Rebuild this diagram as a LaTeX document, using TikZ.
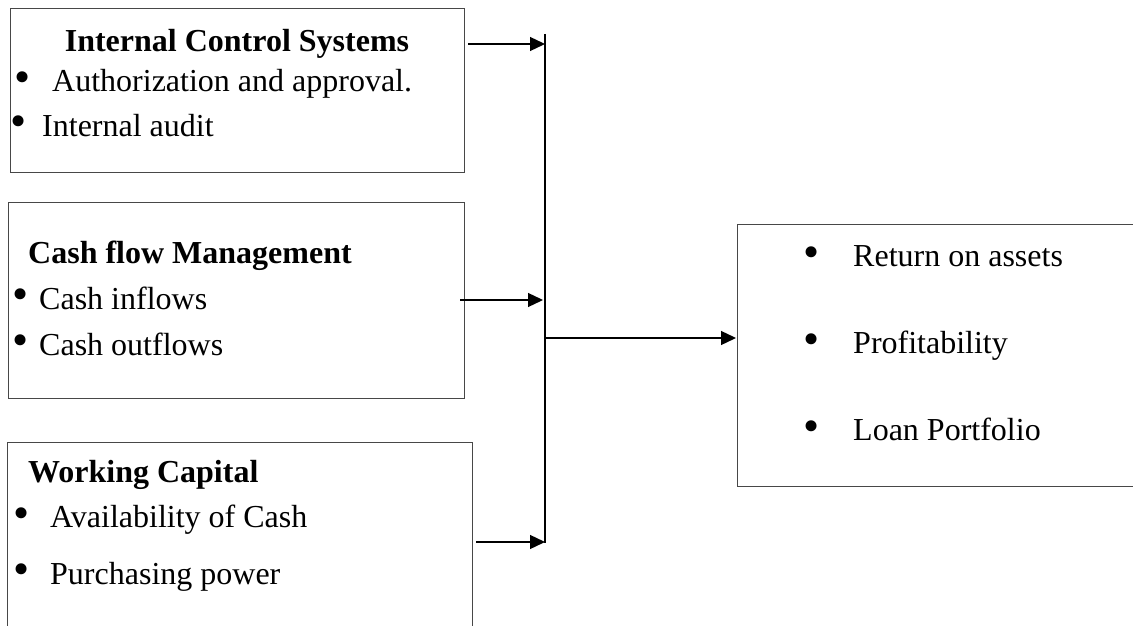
\documentclass[tikz,border=0pt]{standalone}
\usepackage{fontspec}
\setmainfont{Liberation Serif}
\usetikzlibrary{arrows.meta}
\begin{document}
\begin{tikzpicture}[x=1pt,y=-1pt,
  frame/.style={draw=black!72, line width=1.2pt, inner sep=0pt, anchor=north west},
  conn/.style={line width=1.3pt},
  arr/.style={conn, -{Triangle[length=15pt,width=14pt]}},
  txt/.style={anchor=base west, inner sep=0pt, font=\fontsize{32}{38}\selectfont},
  ttl/.style={txt, font=\fontsize{32}{38}\selectfont\bfseries},
  dot/.style={anchor=center, inner sep=0pt, font=\fontsize{46}{50}\selectfont}]
\useasboundingbox (0,0) rectangle (1133,626);
\fill[white] (0,0) rectangle (1133,626);
\clip (0,0) rectangle (1133,626);

% boxes
\node[frame, minimum width=454pt, minimum height=164pt] (ics) at (10,8) {};
\node[frame, minimum width=456pt, minimum height=196pt] (cfm) at (8,202) {};
\node[frame, minimum width=465pt, minimum height=230pt] (wc) at (7,442) {};
\node[frame, minimum width=460pt, minimum height=262pt] (out) at (737,224) {};

% box 1 text
\node[ttl, anchor=base] (ics-t) at (237,52) {Internal Control Systems};
\node[dot] (ics-d1) at (23,82) {•};
\node[txt] (ics-a) at (52,92) {Authorization and approval.};
\node[dot] (ics-d2) at (19,126) {•};
\node[txt] (ics-b) at (42,136) {Internal audit};

% box 2 text
\node[ttl] (cfm-t) at (28,263) {Cash flow Management};
\node[dot] (cfm-d1) at (21,299) {•};
\node[txt] (cfm-a) at (39,309) {Cash inflows};
\node[dot] (cfm-d2) at (21,345) {•};
\node[txt] (cfm-b) at (39,355) {Cash outflows};

% box 3 text
\node[ttl] (wc-t) at (28,482) {Working Capital};
\node[dot] (wc-d1) at (22,518) {•};
\node[txt] (wc-a) at (50,527) {Availability of Cash};
\node[dot] (wc-d2) at (22,574) {•};
\node[txt] (wc-b) at (50,584) {Purchasing power};

% box 4 text
\node[dot] (out-d1) at (812,257) {•};
\node[txt] (out-a) at (853,266) {Return on assets};
\node[dot] (out-d2) at (812,344) {•};
\node[txt] (out-b) at (853,353) {Profitability};
\node[dot] (out-d3) at (812,431) {•};
\node[txt] (out-c) at (853,440) {Loan Portfolio};

% connectors
\coordinate (bustop) at (545,34);
\coordinate (busbot) at (545,543);
\coordinate (j1) at (545,44);
\coordinate (j2) at (543,300);
\coordinate (j3) at (545,542);
\coordinate (jm) at (545,338);
\draw[conn] (bustop) -- (busbot);
\draw[arr] ([xshift=3pt]ics.east |- j1) -- (j1);
\draw[arr] ([xshift=-5pt]cfm.east |- j2) -- (j2);
\draw[arr] ([xshift=3pt]wc.east |- j3) -- (j3);
\draw[arr] (jm) -- ([xshift=-1pt]out.west |- jm);
\end{tikzpicture}
\end{document}
